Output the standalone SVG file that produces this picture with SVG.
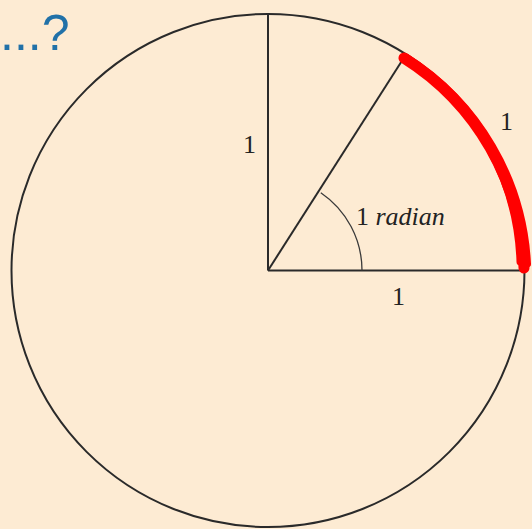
<svg xmlns="http://www.w3.org/2000/svg" width="532" height="529" viewBox="0 0 532 529">
  <style>
    .ln { fill: none; stroke: #2a2a2a; stroke-width: 2; }
    .thin { fill: none; stroke: #3a3a3a; stroke-width: 1.3; }
    .lbl { font-family: "Liberation Serif", "DejaVu Serif", serif; font-size: 26px; fill: #222; }
    .red { fill: none; stroke: #ff0000; stroke-linecap: round; stroke-linejoin: round; }
  </style>
  <rect x="0" y="0" width="532" height="529" fill="#fdebd3"/>
  <g id="title">
    <text x="0" y="50" font-family="Liberation Sans, Arial, sans-serif" font-size="50" fill="#2171a8">...?</text>
  </g>
  <g id="circle">
    <circle cx="268" cy="270.5" r="256.5" class="ln"/>
  </g>
  <g id="connectors">
    <line x1="268" y1="270.5" x2="268" y2="14" class="ln"/>
    <line x1="268" y1="270.5" x2="524" y2="270.5" class="ln"/>
    <line x1="268" y1="270.5" x2="405" y2="56" class="ln"/>
    <path d="M 362 270.5 A 94 94 0 0 0 320.8 192.7" class="thin"/>
  </g>
  <g id="red-arc">
    <path d="M 404 58 A 256.5 256.5 0 0 1 524 268" class="red" stroke-width="11"/>
    <path d="M 410 61 A 253 253 0 0 1 520 262" class="red" stroke-width="7"/>
    <path d="M 407 57 A 260 260 0 0 1 528 264" class="red" stroke-width="6"/>
  </g>
  <g id="labels">
    <text x="243" y="153" class="lbl">1</text>
    <text x="500" y="130" class="lbl">1</text>
    <text x="392" y="305" class="lbl">1</text>
    <text x="356" y="225" class="lbl">1 <tspan font-style="italic">radian</tspan></text>
  </g>
</svg>
